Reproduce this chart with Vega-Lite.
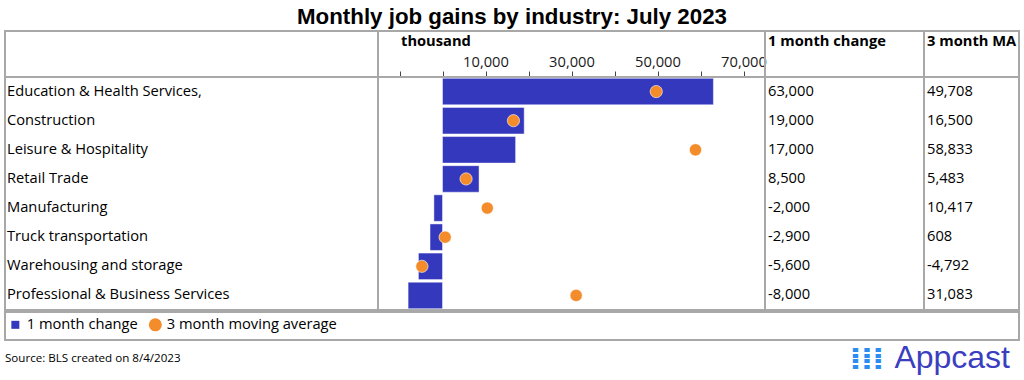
{
  "$schema": "https://vega.github.io/schema/vega-lite/v6.json",
  "background": "white",
  "padding": {"left": 4, "right": 4, "top": 5, "bottom": 4},
  "title": {"text": "Monthly job gains by industry: July 2023", "font": "Liberation Sans", "fontSize": 22.3, "fontWeight": "bold", "color": "#000000", "anchor": "middle", "offset": 2},
  "config": {
    "view": {"stroke": "#a8a8a8", "strokeWidth": 2},
    "locale": {"number": {"decimal": ".", "thousands": ",", "grouping": [3], "currency": ["$", ""], "minus": "-"}},
    "font": "Open Sans",
    "text": {"font": "Open Sans", "fontSize": 14.7, "color": "#000000"}
  },
  "datasets": {
    "jobs": [
      {"industry": "Education & Health Services,", "change": 63000, "ma": 49708},
      {"industry": "Construction", "change": 19000, "ma": 16500},
      {"industry": "Leisure & Hospitality", "change": 17000, "ma": 58833},
      {"industry": "Retail Trade", "change": 8500, "ma": 5483},
      {"industry": "Manufacturing", "change": -2000, "ma": 10417},
      {"industry": "Truck transportation", "change": -2900, "ma": 608},
      {"industry": "Warehousing and storage", "change": -5600, "ma": -4792},
      {"industry": "Professional & Business Services", "change": -8000, "ma": 31083}
    ]
  },
  "spacing": 0,
  "resolve": {"scale": {"color": "independent"}},
  "vconcat": [
    {
      "columns": 4,
      "spacing": 0,
      "bounds": "flush",
      "concat": [
        {
          "width": 373, "height": 46,
          "data": {"values": [{"h": ""}]},
          "mark": {"type": "text", "align": "left", "baseline": "top", "dx": 3, "dy": 3, "fontWeight": "bold"},
          "encoding": {
            "x": {"datum": 0, "type": "quantitative", "scale": {"domain": [0, 1]}, "axis": null},
            "y": {"datum": 1, "type": "quantitative", "scale": {"domain": [0, 1]}, "axis": null},
            "text": {"field": "h"}
          }
        },
        {
          "width": 387, "height": 46,
          "data": {"values": [{"h": "thousand"}]},
          "mark": {"type": "text", "align": "left", "baseline": "top", "dx": 23, "dy": 3, "fontWeight": "bold"},
          "encoding": {
            "x": {
              "datum": -15000, "type": "quantitative",
              "scale": {"domain": [-15000, 75000], "nice": false, "zero": false},
              "axis": {
                "orient": "top", "offset": -46, "title": null,
                "values": [-10000, 0, 10000, 20000, 30000, 40000, 50000, 60000, 70000],
                "labelExpr": "indexof([10000, 30000, 50000, 70000], datum.value) >= 0 ? format(datum.value, ',') : ''",
                "domain": false, "grid": false, "ticks": true, "tickSize": 6, "tickColor": "#444444",
                "labelFont": "Open Sans", "labelFontSize": 14.7, "labelColor": "#1a1a1a", "labelPadding": 2, "labelFlush": false, "labelOverlap": false
              }
            },
            "y": {"datum": 1, "type": "quantitative", "scale": {"domain": [0, 1]}, "axis": null},
            "text": {"field": "h"}
          }
        },
        {
          "width": 159, "height": 46,
          "data": {"values": [{"h": "1 month change"}]},
          "mark": {"type": "text", "align": "left", "baseline": "top", "dx": 3, "dy": 3, "fontWeight": "bold"},
          "encoding": {
            "x": {"datum": 0, "type": "quantitative", "scale": {"domain": [0, 1]}, "axis": null},
            "y": {"datum": 1, "type": "quantitative", "scale": {"domain": [0, 1]}, "axis": null},
            "text": {"field": "h"}
          }
        },
        {
          "width": 95, "height": 46,
          "data": {"values": [{"h": "3 month MA"}]},
          "mark": {"type": "text", "align": "left", "baseline": "top", "dx": 3, "dy": 3, "fontWeight": "bold"},
          "encoding": {
            "x": {"datum": 0, "type": "quantitative", "scale": {"domain": [0, 1]}, "axis": null},
            "y": {"datum": 1, "type": "quantitative", "scale": {"domain": [0, 1]}, "axis": null},
            "text": {"field": "h"}
          }
        },
        {
          "width": 373, "height": 233,
          "data": {"name": "jobs"},
          "mark": {"type": "text", "align": "left", "dx": 2},
          "encoding": {
            "x": {"datum": 0, "type": "quantitative", "scale": {"domain": [0, 1]}, "axis": null},
            "y": {"field": "industry", "type": "nominal", "sort": null, "axis": null, "scale": {"type": "band", "paddingInner": 0, "paddingOuter": 0}},
            "text": {"field": "industry"}
          }
        },
        {
          "width": 387, "height": 233,
          "data": {"name": "jobs"},
          "encoding": {
            "y": {"field": "industry", "type": "nominal", "sort": null, "axis": null, "scale": {"type": "band", "paddingInner": 0.09, "paddingOuter": 0.045}}
          },
          "layer": [
            {
              "mark": {"type": "bar", "color": "#3338bc", "stroke": "#ffffff", "strokeOpacity": 0.45, "strokeWidth": 1},
              "encoding": {
                "x": {"field": "change", "type": "quantitative", "scale": {"domain": [-15000, 75000], "nice": false}, "axis": null}
              }
            },
            {
              "mark": {"type": "circle", "color": "#f58c2c", "opacity": 1, "size": 150, "stroke": "#ffffff", "strokeWidth": 0.6},
              "encoding": {
                "x": {"field": "ma", "type": "quantitative", "axis": null}
              }
            }
          ]
        },
        {
          "width": 159, "height": 233,
          "data": {"name": "jobs"},
          "mark": {"type": "text", "align": "left", "dx": 3},
          "encoding": {
            "x": {"datum": 0, "type": "quantitative", "scale": {"domain": [0, 1]}, "axis": null},
            "y": {"field": "industry", "type": "nominal", "sort": null, "axis": null, "scale": {"type": "band", "paddingInner": 0, "paddingOuter": 0}},
            "text": {"field": "change", "type": "quantitative", "format": ","}
          }
        },
        {
          "width": 95, "height": 233,
          "data": {"name": "jobs"},
          "mark": {"type": "text", "align": "left", "dx": 3},
          "encoding": {
            "x": {"datum": 0, "type": "quantitative", "scale": {"domain": [0, 1]}, "axis": null},
            "y": {"field": "industry", "type": "nominal", "sort": null, "axis": null, "scale": {"type": "band", "paddingInner": 0, "paddingOuter": 0}},
            "text": {"field": "ma", "type": "quantitative", "format": ","}
          }
        }
      ]
    },
    {
      "width": 1014, "height": 28,
      "data": {"values": [{"series": "1 month change"}, {"series": "3 month moving average"}]},
      "mark": {"type": "point", "filled": true, "opacity": 0},
      "encoding": {
        "x": {"datum": 0.5, "type": "quantitative", "scale": {"domain": [0, 1]}, "axis": null},
        "y": {"datum": 0.5, "type": "quantitative", "scale": {"domain": [0, 1]}, "axis": null},
        "color": {
          "field": "series", "type": "nominal",
          "scale": {"domain": ["1 month change", "3 month moving average"], "range": ["#3338bc", "#f58c2c"]},
          "legend": {
            "title": null, "orient": "none", "legendX": 3, "legendY": 5, "direction": "horizontal",
            "symbolOpacity": 1, "labelFont": "Open Sans", "labelFontSize": 14.7, "labelColor": "#000000", "labelLimit": 400,
            "columnPadding": 10, "labelOffset": 4, "symbolStrokeWidth": 0,
            "encode": {"symbols": {"update": {
              "size": {"signal": "datum.index === 0 ? 64 : 170"},
              "shape": {"signal": "datum.index === 0 ? 'square' : 'circle'"},
              "opacity": {"value": 1}
            }}}
          }
        }
      }
    },
    {
      "width": 1014, "height": 33,
      "view": {"stroke": null},
      "data": {"values": [
        {"part": "source", "label": "Source: BLS created on 8/4/2023"},
        {"part": "logo", "label": "Appcast"},
        {"part": "icon", "label": "⁞⁞⁞"}
      ]},
      "layer": [
        {
          "transform": [{"filter": "datum.part === 'source'"}],
          "mark": {"type": "text", "align": "left", "dx": 0, "dy": -1, "fontSize": 11.6, "font": "Open Sans"},
          "encoding": {
            "x": {"datum": 0, "type": "quantitative", "scale": {"domain": [0, 1]}, "axis": null},
            "text": {"field": "label"}
          }
        },
        {
          "transform": [{"filter": "datum.part === 'logo'"}],
          "mark": {"type": "text", "align": "right", "baseline": "alphabetic", "dx": -9, "dy": 8, "fontSize": 32, "font": "Liberation Sans", "color": "#3a3ebf"},
          "encoding": {
            "x": {"datum": 1, "type": "quantitative", "scale": {"domain": [0, 1]}, "axis": null},
            "text": {"field": "label"}
          }
        },
        {
          "transform": [{"filter": "datum.part === 'icon'"}],
          "mark": {"type": "text", "align": "right", "baseline": "middle", "dx": -135, "dy": 0, "fontSize": 30, "font": "DejaVu Sans", "fontWeight": "bold", "color": "#2b8cf2"},
          "encoding": {
            "x": {"datum": 1, "type": "quantitative", "scale": {"domain": [0, 1]}, "axis": null},
            "text": {"field": "label"}
          }
        }
      ]
    }
  ]
}
